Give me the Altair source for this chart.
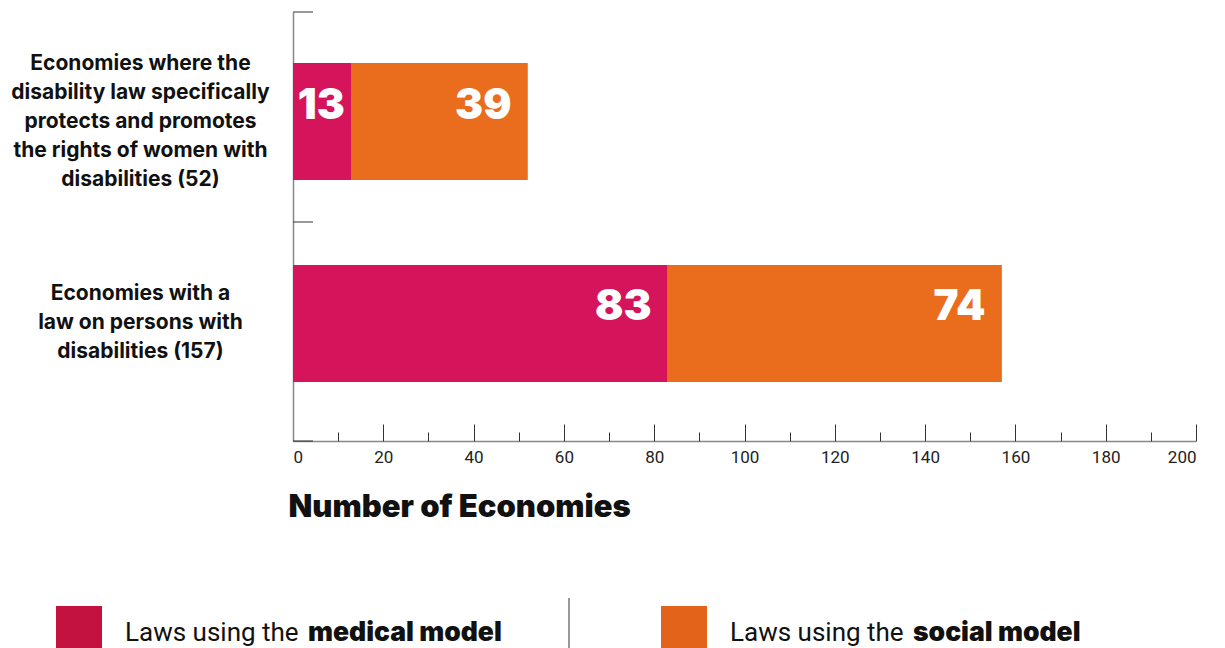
import altair as alt
import pandas as pd

categories = [
    "Economies where the|disability law specifically|protects and promotes|the rights of women with|disabilities (52)",
    "Economies with a|law on persons with|disabilities (157)",
]
medical_counts = [13, 83]
social_counts = [39, 74]
series_names = ["Laws using the medical model", "Laws using the social model"]
series_colors = ["#d6145c", "#e96d1d"]
legend_colors = ["#c41240", "#e3631a"]
legend_plain = ["Laws using the", "Laws using the"]
legend_bold = ["medical model", "social model"]
x_ticks = list(range(0, 201, 20))
x_minor = list(range(10, 200, 20))

rows = []
for c, m, s in zip(categories, medical_counts, social_counts):
    rows.append({"category": c, "series": series_names[0], "order": 0, "value": m})
    rows.append({"category": c, "series": series_names[1], "order": 1, "value": s})
df = pd.DataFrame(rows)

W, H = 903, 429
LH = 29
yscale = alt.Scale(domain=categories, paddingInner=0.42, paddingOuter=0.272, align=0.4636)
xscale = alt.Scale(domain=[0, 200], nice=False, zero=True)

base = alt.Chart(df).transform_stack(
    stack="value", groupby=["category"],
    sort=[alt.SortField("order", order="ascending")], as_=["start", "end"]
)

bars = base.mark_bar().encode(
    x=alt.X("start:Q", scale=xscale, axis=alt.Axis(
        values=x_ticks, ticks=False, tickSize=0, labelPadding=8, labelFontSize=17,
        labelFont="Roboto", labelColor="#222", domainColor="#888", domainWidth=1.5,
        grid=False, title="Number of Economies", titleAnchor="start", titleAlign="left",
        titleX=-5, titleFontSize=31, titleFont="Inter", titleFontWeight=900,
        titleColor="#111", titlePadding=27)),
    x2="end:Q",
    y=alt.Y("category:N", scale=yscale, sort=categories, axis=alt.Axis(
        title=None, ticks=False, tickSize=0, labelExpr="split(datum.label, '|')",
        labelAlign="center", labelPadding=153, labelFontSize=21, labelFont="Inter",
        labelFontWeight="bold", labelColor="#111", labelLineHeight=LH,
        labelBaseline="middle", domainColor="#888", domainWidth=1.5, labelLimit=400,
        labelOffset={
            "condition": [
                {"test": "length(split(datum.value, '|')) == 5", "value": -2 * LH},
                {"test": "length(split(datum.value, '|')) == 3", "value": -1 * LH},
            ],
            "value": 0,
        })),
    color=alt.Color("series:N", scale=alt.Scale(domain=series_names, range=series_colors), legend=None),
)

labels = base.transform_calculate(
    lx="datum.value < 20 ? datum.end - 1.5 : datum.end - 3.6"
).mark_text(
    align="right", baseline="middle", dy=-16, color="white", fontSize=42,
    font="Inter", fontWeight=900
).encode(
    x=alt.X("lx:Q", scale=xscale, axis=None),
    y=alt.Y("category:N", scale=yscale, sort=categories, axis=None),
    text="value:Q",
)

ticks_major = base.mark_bar(opacity=0).encode(
    x=alt.X("start:Q", scale=xscale, axis=alt.Axis(
        orient="top", offset=-H, values=x_ticks, labels=False, domain=False,
        tickSize=17, tickColor="#333", tickWidth=1, title=None, grid=False)),
    x2="end:Q",
    y=alt.Y("category:N", scale=yscale, sort=categories, axis=None),
)

ticks_minor = base.mark_bar(opacity=0).encode(
    x=alt.X("start:Q", scale=xscale, axis=alt.Axis(
        orient="top", offset=-H, values=x_minor, labels=False, domain=False,
        tickSize=9, tickColor="#333", tickWidth=1, title=None, grid=False)),
    x2="end:Q",
    y=alt.Y("category:N", scale=yscale, sort=categories, axis=None),
)

one = pd.DataFrame({"k": [0]})

# short tick marks on the category axis (band separators)
sep_y = [0, 210, H]
sep_layers = [
    alt.Chart(one).mark_rule(color="#333", strokeWidth=1).encode(
        x=alt.value(0), x2=alt.value(20), y=alt.value(v))
    for v in sep_y
]

legend_layers = []
swatch_x = [-237, 368]
text_x = [-168, 437]
bold_x = [15, 620]
for i in range(2):
    legend_layers.append(alt.Chart(one).mark_rect(color=legend_colors[i]).encode(
        x=alt.value(swatch_x[i]), x2=alt.value(swatch_x[i] + 46),
        y=alt.value(594), y2=alt.value(640)))
    legend_layers.append(alt.Chart(one).mark_text(
        align="left", baseline="alphabetic", fontSize=26, font="Roboto", color="#111"
    ).encode(x=alt.value(text_x[i]), y=alt.value(629), text=alt.value(legend_plain[i])))
    legend_layers.append(alt.Chart(one).mark_text(
        align="left", baseline="alphabetic", fontSize=26.5, font="Inter", fontWeight=900, color="#111"
    ).encode(x=alt.value(bold_x[i]), y=alt.value(629), text=alt.value(legend_bold[i])))

divider = alt.Chart(one).mark_rule(color="#333", strokeWidth=1).encode(
    x=alt.value(276), y=alt.value(586), y2=alt.value(645))

chart = alt.layer(bars, labels, ticks_major, ticks_minor, *sep_layers, *legend_layers, divider).resolve_axis(
    x="independent", y="independent"
).properties(
    width=W, height=H,
    padding={"left": 285, "top": 4, "right": 20, "bottom": 215},
    autosize=alt.AutoSizeParams(type="none"),
).configure_view(stroke=None)

chart.save("out.html", embed_options={"renderer": "svg", "actions": False})
